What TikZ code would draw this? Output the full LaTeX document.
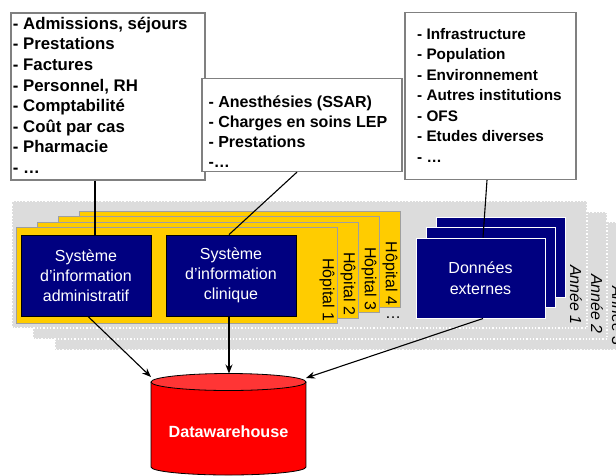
\documentclass[tikz,border=0pt]{standalone}
\usepackage{fontspec}
\setmainfont{Liberation Sans}
\usetikzlibrary{arrows.meta,calc}
\definecolor{navyb}{HTML}{000080}
\definecolor{yel}{HTML}{FFCC00}
\definecolor{layergray}{HTML}{DCDCDC}
\definecolor{dwred}{HTML}{FF0000}
\definecolor{dwtop}{HTML}{FF3535}
\definecolor{boxgray}{HTML}{808080}
\begin{document}
\begin{tikzpicture}[x=1pt,y=-1pt,
  layer/.style={fill=layergray, draw=white, dotted, line width=1.3pt},
  yearlbl/.style={rotate=-90, inner sep=0, font=\fontsize{16}{18}\selectfont\itshape},
  hosp/.style={fill=yel, draw=gray!75, line width=0.8pt},
  hosplbl/.style={rotate=-90, inner sep=0, font=\fontsize{16}{18}\selectfont},
  sysbox/.style={fill=navyb, draw=black, line width=0.8pt, text=white, align=center,
    minimum width=130pt, minimum height=81pt, inner sep=0,
    font=\fontsize{16}{20}\selectfont},
  extbox/.style={fill=navyb, draw=white, line width=1pt},
  listbox/.style={draw=boxgray, fill=white, line width=1.2pt, inner sep=0},
  conn/.style={draw=black, line width=1.1pt},
  arr/.style={conn, -{Stealth[length=9pt,width=7pt]}}
]
\useasboundingbox (0,0) rectangle (616,475);

% year layers
\path[layer] (55,222) rectangle (640,350);
\node[yearlbl] (a3) at (618,316) {Année 3};
\path[layer] (33,212) rectangle (607,339);
\node[yearlbl] (a2) at (597,304) {Année 2};
\path[layer] (12,201) rectangle (587,328);
\node[yearlbl] (a1) at (576,295) {Année 1};

% hospitals
\path[hosp] (79,211) rectangle (400,307);
\node[hosplbl] (h4) at (390,273.5) {Hôpital 4};
\path[hosp] (58,216) rectangle (379,312);
\node[hosplbl] (h3) at (369,279) {Hôpital 3};
\path[hosp] (37,222) rectangle (358,318);
\node[hosplbl] (h2) at (348,284) {Hôpital 2};
\path[hosp] (16,227) rectangle (337,323);
\node[hosplbl] (h1) at (327,290) {Hôpital 1};
\node[anchor=base, inner sep=0, font=\fontsize{16}{18}\selectfont] (hdots) at (393,318) {…};

% information systems
\node[sysbox] (adm) at (86,275.5) {Système\\d’information\\administratif};
\node[sysbox] (clin) at (231,275.5) {Système\\d’information\\clinique};

% external data
\path[extbox] (436,217) rectangle (565,297);
\path[extbox] (426,227) rectangle (555,307);
\node[extbox, minimum width=129pt, minimum height=80pt, inner sep=0, text=white, align=center,
  font=\fontsize{16}{21}\selectfont] (ext) at (480.5,278) {Données\\externes};

% list boxes
\node[listbox, minimum width=194pt, minimum height=167pt] (box1) at (108,96.5) {};
\node[listbox, minimum width=200pt, minimum height=93pt] (box2) at (302,125) {};
\node[listbox, minimum width=171pt, minimum height=167pt] (box3) at (490.5,96) {};

\foreach \t [count=\i] in {{- Admissions, séjours},{- Prestations},{- Factures},{- Personnel, RH},{- Comptabilité},{- Coût par cas},{- Pharmacie},{- …}}
  \node[anchor=base west, inner sep=0, font=\fontsize{16.8}{20}\selectfont\bfseries] (la\i) at (12.7,{29.3+20.57*(\i-1)}) {\t};
\foreach \t [count=\i] in {{- Anesthésies (SSAR)},{- Charges en soins LEP},{- Prestations},{-…}}
  \node[anchor=base west, inner sep=0, font=\fontsize{16}{20}\selectfont\bfseries] (lb\i) at (208.3,{107.5+20.1*(\i-1)}) {\t};
\foreach \t [count=\i] in {{- Infrastructure},{- Population},{- Environnement},{- Autres institutions},{- OFS},{- Etudes diverses},{- …}}
  \node[anchor=base west, inner sep=0, font=\fontsize{15.3}{20}\selectfont\bfseries] (lc\i) at (417,{39.3+20.5*(\i-1)}) {\t};

% connectors from lists
\draw[conn] ([xshift=-13pt]box1.south) -- ([xshift=9pt]adm.north);
\draw[conn] ([xshift=-5pt]box2.south) -- ([xshift=-2pt]clin.north);
\draw[conn] ([xshift=-3.5pt]box3.south) -- ([xshift=2.5pt]ext.north);

% datawarehouse cylinder
\fill[dwred] (151,382) rectangle (306,467);
\fill[dwred] (228.5,467) ellipse [x radius=77.5, y radius=8];
\draw[line width=0.8pt] (151,382) -- (151,467) arc[start angle=180, end angle=0, x radius=77.5, y radius=8] -- (306,382);
\draw[line width=0.8pt, fill=dwtop] (228.5,382) ellipse [x radius=77.5, y radius=8.5];
\coordinate (dwL) at (151,377);
\coordinate (dwT) at (229,373.5);
\coordinate (dwR) at (306,378);
\node[text=white, font=\fontsize{16.2}{18}\selectfont\bfseries] (dw) at (228.5,432) {Datawarehouse};

% arrows
\draw[arr] ([xshift=2pt]adm.south) -- (dwL);
\draw[arr] ([xshift=-2pt]clin.south) -- (dwT);
\draw[arr] ([xshift=2.5pt]ext.south) -- (dwR);
\end{tikzpicture}
\end{document}
